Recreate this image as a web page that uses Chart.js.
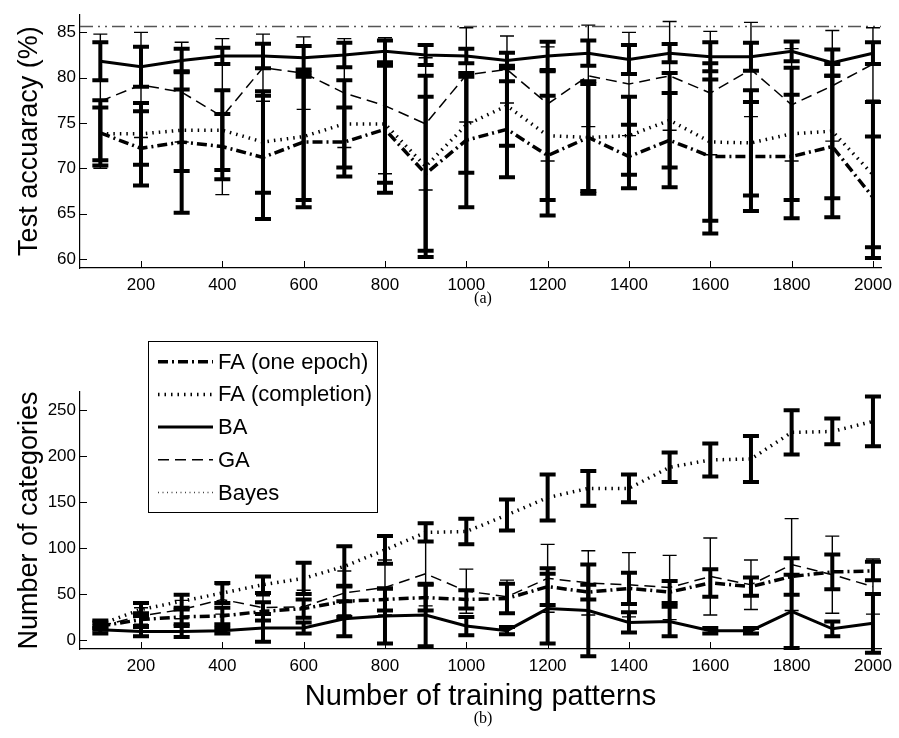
<!DOCTYPE html>
<html>
<head>
<meta charset="utf-8">
<script src="https://cdn.jsdelivr.net/npm/chart.js@4.4.1/dist/chart.umd.min.js"></script>
<style>
  body { margin: 0; background: #fff; }
  #wrap { position: relative; width: 899px; height: 738px; }
  canvas { position: absolute; left: 0; }
  .cap { position: absolute; left: 0; width: 966px; text-align: center;
         font: 16px "Liberation Serif", "Times New Roman", serif; color: #000; }
</style>
</head>
<body>
<div id="wrap">
  <canvas id="accChart" width="899" height="310" style="top:0"></canvas>
  <div class="cap" style="top:289px">(a)</div>
  <canvas id="catChart" width="899" height="428" style="top:310px"></canvas>
  <div class="cap" style="top:709px">(b)</div>
</div>
<script>
  // training set sizes shared by both panels
  const trainSizes = [100, 200, 300, 400, 500, 600, 700, 800, 900, 1000,
                      1100, 1200, 1300, 1400, 1500, 1600, 1700, 1800, 1900, 2000];
  const xTicks = [200, 400, 600, 800, 1000, 1200, 1400, 1600, 1800, 2000];

  // (a) test accuracy, mean and +/- spread
  const accFaEpoch    = [73.9, 72.2, 72.9, 72.4, 71.2, 72.9, 72.9, 74.3, 69.4, 73.1, 74.3, 71.4, 73.4, 71.3, 73.1, 71.3, 71.3, 71.3, 72.4, 66.8];
  const accFaEpochErr = [3.6, 4.1, 7.8, 3.6, 6.8, 7.2, 3.8, 7.0, 8.5, 7.4, 5.3, 6.6, 6.2, 3.5, 5.2, 8.5, 6.0, 6.8, 7.8, 6.7];
  const accFaComp     = [73.8, 73.8, 74.2, 74.2, 72.9, 73.5, 74.9, 74.9, 70.2, 74.8, 76.9, 73.6, 73.4, 73.6, 75.3, 72.9, 72.8, 73.8, 74.1, 69.3];
  const accFaCompErr  = [2.9, 3.4, 4.5, 4.4, 5.6, 7.0, 4.8, 6.5, 10.0, 5.3, 4.4, 7.1, 5.9, 4.3, 5.2, 8.7, 5.8, 7.3, 7.4, 8.0];
  const accBa         = [81.8, 81.2, 81.9, 82.4, 82.4, 82.2, 82.5, 82.9, 82.5, 82.4, 81.9, 82.4, 82.7, 82.0, 82.7, 82.3, 82.3, 82.9, 81.65, 82.7];
  const accBaErr      = [2.1, 2.2, 1.3, 0.9, 1.35, 1.3, 1.35, 1.2, 1.1, 0.8, 0.85, 1.55, 1.4, 1.6, 1.0, 1.6, 1.55, 1.1, 1.45, 1.2];
  const accGa         = [77.4, 79.2, 78.4, 75.7, 81.1, 80.5, 78.3, 76.9, 74.9, 80.3, 80.9, 77.1, 80.2, 79.3, 80.2, 78.3, 80.9, 77.0, 79.1, 81.5];
  const accGaErr      = [7.4, 5.8, 5.5, 8.6, 3.7, 4.0, 6.0, 7.5, 7.3, 5.2, 3.7, 6.3, 5.6, 5.7, 6.0, 6.8, 5.2, 6.2, 6.1, 4.0];
  const accBayes      = 85.63;
  const accYTicks     = [60, 65, 70, 75, 80, 85];

  // (b) number of categories, mean and +/- spread
  const catFaEpoch    = [15, 22, 25, 26, 31, 34, 42, 44, 46, 44, 45, 58, 52, 56, 52, 62, 58, 69, 74, 75];
  const catFaEpochErr = [4, 7, 8, 9, 10, 10, 17, 12, 14, 10, 16, 20, 8, 17, 12, 15, 10, 20, 19, 10];
  const catFaComp     = [17, 33, 42, 51, 60, 67, 80, 98, 117, 118, 136, 155, 165, 165, 188, 196, 197, 226, 227, 238];
  const catFaCompErr  = [4, 7, 7, 11, 9, 17, 22, 15, 10, 14, 17, 25, 19, 15, 16, 18, 25, 24, 14, 27];
  const catBa         = [11, 9, 9, 10, 13, 13, 23, 26, 27, 15, 10, 34, 32, 19, 20, 10, 10, 31, 12, 18];
  const catBaErr      = [4, 5, 6, 3, 15, 6, 19, 30, 34, 10, 4, 38, 50, 11, 16, 3, 3, 40, 8, 32];
  const catGa         = [15, 26, 33, 44, 35, 36, 51, 57, 72, 53, 47, 67, 62, 60, 57, 69, 60, 82, 71, 58];
  const catGaErr      = [3, 9, 10, 16, 13, 18, 24, 30, 35, 24, 18, 37, 35, 35, 35, 42, 27, 50, 42, 30];
  const catYTicks     = [0, 50, 100, 150, 200, 250];

  const seriesNames = ['FA (one epoch)', 'FA (completion)', 'BA', 'GA', 'Bayes'];

  const SANS = '"Liberation Sans", Arial, Helvetica, sans-serif';

  // line styles, matlab-ish black and white
  const styles = [
    { borderWidth: 3.5, borderDash: [10, 4, 2, 4], errWidth: 4, capW: 16 },
    { borderWidth: 3.5, borderDash: [1.5, 5], errWidth: 4, capW: 16 },
    { borderWidth: 3, borderDash: [], errWidth: 4, capW: 16 },
    { borderWidth: 1.5, borderDash: [11, 6], errWidth: 1.4, capW: 14 },
    { borderWidth: 1.3, borderDash: [1, 3.5], borderColor: '#444' }
  ];

  const pts = (arr) => trainSizes.map((x, i) => ({ x: x, y: arr[i] }));

  function makeSet(idx, arr, err) {
    const s = styles[idx];
    return {
      label: seriesNames[idx],
      data: pts(arr),
      errors: err,
      errWidth: s.errWidth,
      capW: s.capW,
      borderColor: s.borderColor || '#000',
      borderWidth: s.borderWidth,
      borderDash: s.borderDash,
      borderCapStyle: 'butt',
      pointRadius: 0,
      tension: 0,
      fill: false
    };
  }

  // vertical error bars with caps, drawn through the chart scales
  const errorBars = {
    id: 'errorBars',
    afterDatasetsDraw(chart) {
      const { ctx, scales: { x, y } } = chart;
      chart.data.datasets.forEach((ds) => {
        if (!ds.errors) return;
        ctx.save();
        ctx.strokeStyle = '#000';
        ctx.lineWidth = ds.errWidth;
        ctx.lineCap = 'butt';
        ds.data.forEach((p, j) => {
          const e = ds.errors[j];
          const px = x.getPixelForValue(p.x);
          const top = y.getPixelForValue(p.y + e);
          const bot = y.getPixelForValue(p.y - e);
          const hw = ds.capW / 2;
          ctx.beginPath();
          ctx.moveTo(px, top); ctx.lineTo(px, bot);
          ctx.moveTo(px - hw, top); ctx.lineTo(px + hw, top);
          ctx.moveTo(px - hw, bot); ctx.lineTo(px + hw, bot);
          ctx.stroke();
        });
        ctx.restore();
      });
    }
  };

  // short tick marks pointing into the plot, like matlab
  const innerTicks = {
    id: 'innerTicks',
    afterDraw(chart) {
      const { ctx, chartArea: a, scales: { x, y } } = chart;
      ctx.save();
      ctx.strokeStyle = '#000';
      ctx.lineWidth = 1;
      ctx.beginPath();
      x.ticks.forEach((t) => {
        const px = Math.round(x.getPixelForValue(t.value)) + 0.5;
        ctx.moveTo(px, a.bottom); ctx.lineTo(px, a.bottom - 7);
      });
      y.ticks.forEach((t) => {
        const py = Math.round(y.getPixelForValue(t.value)) + 0.5;
        ctx.moveTo(a.left, py); ctx.lineTo(a.left + 7, py);
      });
      ctx.stroke();
      ctx.restore();
    }
  };

  // boxed legend in the upper left of panel (b)
  const boxLegend = {
    id: 'boxLegend',
    afterDraw(chart) {
      const ctx = chart.ctx;
      const bx = 148, by = 31, bw = 229, bh = 171;
      ctx.save();
      ctx.fillStyle = '#fff';
      ctx.fillRect(bx, by, bw, bh);
      ctx.strokeStyle = '#000';
      ctx.lineWidth = 1;
      ctx.strokeRect(bx + 0.5, by + 0.5, bw, bh);
      ctx.font = '22px ' + SANS;
      ctx.textBaseline = 'middle';
      ctx.fillStyle = '#000';
      chart.data.datasets.forEach((ds, i) => {
        const yy = by + 20.7 + i * 32.7;
        ctx.beginPath();
        ctx.setLineDash(ds.borderDash);
        ctx.lineWidth = ds.borderWidth;
        ctx.strokeStyle = ds.borderColor;
        ctx.lineCap = 'butt';
        ctx.moveTo(158, yy); ctx.lineTo(213, yy);
        ctx.stroke();
        ctx.setLineDash([]);
        ctx.fillText(ds.label, 218, yy + 1);
      });
      ctx.restore();
    }
  };

  function baseOptions(yMin, yMax, yTicks, yTitle, xTitle, xHeight, pad) {
    return {
      responsive: false,
      animation: false,
      layout: { padding: pad },
      plugins: { legend: { display: false }, tooltip: { enabled: false } },
      scales: {
        x: {
          type: 'linear',
          min: 50, max: 2020,
          afterBuildTicks: (s) => { s.ticks = xTicks.map((v) => ({ value: v })); },
          afterFit: (s) => { s.height = xHeight; },
          grid: { drawOnChartArea: false, drawTicks: false },
          border: { color: '#000', width: 1.2 },
          ticks: { color: '#000', padding: 7, maxRotation: 0, font: { family: SANS, size: 17 },
                   callback: (v) => String(v) },
          title: xTitle ? { display: true, text: xTitle, color: '#000',
                            font: { family: SANS, size: 29 }, padding: { bottom: 24 } }
                        : { display: false }
        },
        y: {
          min: yMin, max: yMax,
          afterBuildTicks: (s) => { s.ticks = yTicks.map((v) => ({ value: v })); },
          afterFit: (s) => { s.width = 80; },
          grid: { drawOnChartArea: false, drawTicks: false },
          border: { color: '#000', width: 1.2 },
          ticks: { color: '#000', padding: 4, font: { family: SANS, size: 17 },
                   callback: (v) => String(v) },
          title: { display: true, text: yTitle, color: '#000',
                   font: { family: SANS, size: 27 }, padding: { top: 13 } }
        }
      }
    };
  }

  // panel (a)
  const accSets = [
    makeSet(0, accFaEpoch, accFaEpochErr),
    makeSet(1, accFaComp, accFaCompErr),
    makeSet(2, accBa, accBaErr),
    makeSet(3, accGa, accGaErr)
  ];
  accSets.push({
    label: seriesNames[4],
    data: [{ x: 50, y: accBayes }, { x: 2020, y: accBayes }],
    borderColor: '#555',
    borderWidth: 1.5,
    borderDash: [13, 5, 2, 5, 2, 5],
    borderCapStyle: 'butt',
    pointRadius: 0
  });

  new Chart(document.getElementById('accChart'), {
    type: 'line',
    data: { datasets: accSets },
    options: baseOptions(59, 87, accYTicks, 'Test accuaracy (%)', null, 42,
                         { left: 0, right: 13, top: 2, bottom: 0 }),
    plugins: [errorBars, innerTicks]
  });

  // panel (b)
  const catSets = [
    makeSet(0, catFaEpoch, catFaEpochErr),
    makeSet(1, catFaComp, catFaCompErr),
    makeSet(2, catBa, catBaErr),
    makeSet(3, catGa, catGaErr),
    { label: seriesNames[4], data: [], borderColor: '#444', borderWidth: 1.3,
      borderDash: [1, 3.5], pointRadius: 0 }
  ];

  new Chart(document.getElementById('catChart'), {
    type: 'line',
    data: { datasets: catSets },
    options: baseOptions(-10, 270, catYTicks, 'Number of categories', 'Number of training patterns', 89,
                         { left: 0, right: 13, top: 82, bottom: 0 }),
    plugins: [errorBars, innerTicks, boxLegend]
  });
</script>
</body>
</html>
